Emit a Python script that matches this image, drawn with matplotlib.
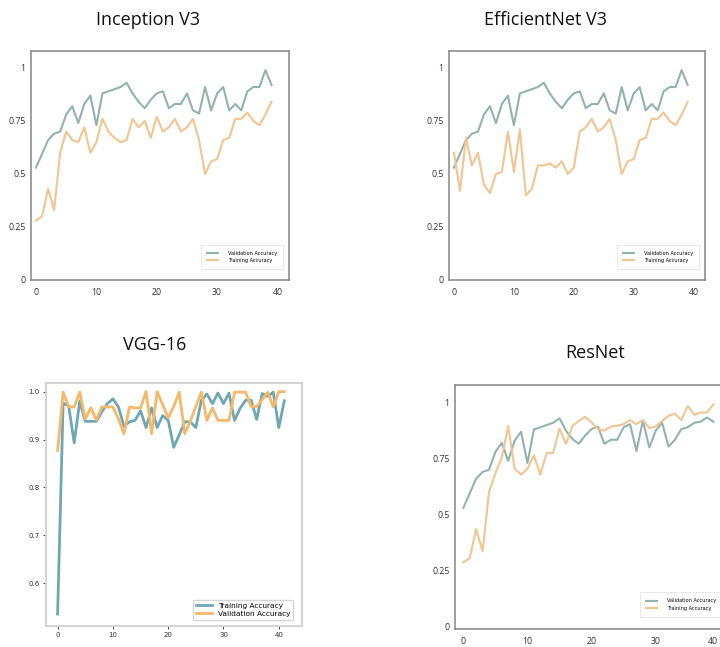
import matplotlib
matplotlib.use("Agg")
import matplotlib.pyplot as plt
import matplotlib.transforms as mtransforms

# ---------------- data ----------------
inception_val = [0.53, 0.595, 0.66, 0.69, 0.70, 0.78, 0.82, 0.74, 0.83, 0.87,
                 0.73, 0.88, 0.89, 0.90, 0.91, 0.93, 0.88, 0.84, 0.81, 0.85,
                 0.88, 0.89, 0.81, 0.83, 0.83, 0.88, 0.80, 0.785, 0.91, 0.80,
                 0.88, 0.91, 0.80, 0.83, 0.80, 0.89, 0.91, 0.91, 0.99, 0.92]
inception_train = [0.28, 0.30, 0.43, 0.33, 0.60, 0.70, 0.66, 0.65, 0.72, 0.60,
                   0.65, 0.76, 0.70, 0.67, 0.65, 0.66, 0.76, 0.72, 0.75, 0.67,
                   0.77, 0.70, 0.72, 0.76, 0.70, 0.72, 0.76, 0.66, 0.50, 0.56,
                   0.57, 0.66, 0.67, 0.76, 0.76, 0.79, 0.75, 0.73, 0.78, 0.84]

efficientnet_val = list(inception_val)
efficientnet_train = [0.60, 0.42, 0.67, 0.54, 0.60, 0.45, 0.41, 0.50, 0.51, 0.70,
                      0.51, 0.71, 0.40, 0.43, 0.54, 0.54, 0.55, 0.53, 0.56, 0.50,
                      0.53, 0.70, 0.72, 0.76, 0.70, 0.72, 0.76, 0.66, 0.50, 0.56,
                      0.57, 0.66, 0.67, 0.76, 0.76, 0.79, 0.75, 0.73, 0.78, 0.84]

vgg_train = [0.536, 0.976, 0.97, 0.893, 0.98, 0.938, 0.938, 0.938, 0.958, 0.975,
             0.985, 0.968, 0.928, 0.937, 0.94, 0.96, 0.925, 0.966, 0.925, 0.95,
             0.94, 0.884, 0.91, 0.937, 0.937, 0.925, 0.982, 0.995, 0.975, 0.997,
             0.975, 0.997, 0.94, 0.965, 0.982, 0.982, 0.942, 0.996, 0.99, 0.999,
             0.925, 0.981]
vgg_val = [0.877, 0.999, 0.968, 0.968, 0.999, 0.943, 0.966, 0.941, 0.968, 0.968,
           0.968, 0.943, 0.912, 0.968, 0.966, 0.966, 1.0, 0.912, 1.0, 0.973,
           0.945, 0.969, 0.999, 0.912, 0.938, 0.969, 0.999, 0.94, 0.966, 0.94,
           0.94, 0.94, 0.999, 0.999, 0.999, 0.969, 0.969, 0.983, 0.999, 0.968,
           1.0, 1.0]

resnet_val = [0.53, 0.595, 0.66, 0.69, 0.70, 0.78, 0.82, 0.74, 0.83, 0.87,
              0.73, 0.88, 0.89, 0.90, 0.91, 0.93, 0.875, 0.838, 0.816, 0.853,
              0.882, 0.893, 0.816, 0.834, 0.834, 0.89, 0.904, 0.784, 0.92, 0.80,
              0.875, 0.91, 0.804, 0.834, 0.882, 0.89, 0.91, 0.915, 0.934, 0.915]
resnet_train = [0.286, 0.305, 0.435, 0.335, 0.60, 0.685, 0.755, 0.895, 0.705, 0.678,
                0.705, 0.765, 0.678, 0.775, 0.775, 0.885, 0.815, 0.895, 0.918, 0.937,
                0.912, 0.882, 0.875, 0.893, 0.897, 0.904, 0.922, 0.904, 0.922, 0.887,
                0.893, 0.919, 0.941, 0.951, 0.922, 0.985, 0.946, 0.956, 0.956, 0.993]

titles = ["Inception V3", "EfficientNet V3", "VGG-16", "ResNet"]
soft_yticks = [0, 0.25, 0.5, 0.75, 1]
soft_yticklabels = ["0", "0.25", "0.5", "0.75", "1"]
xticks = [0, 10, 20, 30, 40]
vgg_yticks = [0.6, 0.7, 0.8, 0.9, 1.0]

# ---------------- figure ----------------
W, H = 720, 647
fig = plt.figure(figsize=(W / 100, H / 100), dpi=100)
fig.patch.set_facecolor("white")

SOFT_TEAL = "#93b2ae"
SOFT_ORANGE = "#f1c491"
VGG_TEAL = "#6ea7b4"
VGG_ORANGE = "#f5b868"
TITLE_FONT = ["Open Sans", "DejaVu Sans"]


def add_px_axes(l, t, r, b):
    return fig.add_axes([l / W, 1 - b / H, (r - l) / W, (b - t) / H])


def soft_panel(box, val, train, ylim, legend_anchor):
    ax = add_px_axes(*box)
    ax.plot(list(range(len(val))), val, color=SOFT_TEAL, lw=1.5,
            label="Validation Accuracy")
    ax.plot(list(range(len(train))), train, color=SOFT_ORANGE, lw=1.5,
            label="Training Accuracy")
    ax.set_xlim(-0.83, 41.9)
    ax.set_ylim(*ylim)
    ax.set_yticks(soft_yticks)
    ax.set_yticklabels(soft_yticklabels)
    ax.set_xticks(xticks)
    for s in ax.spines.values():
        s.set_color("#858585")
        s.set_linewidth(1.1)
    ax.tick_params(length=0, labelsize=6.3, colors="#333333", pad=4)
    ax.tick_params(axis="x", pad=6)
    for lbl in ax.get_xticklabels() + ax.get_yticklabels():
        lbl.set_fontfamily(TITLE_FONT)
    leg = ax.legend(loc="lower right", bbox_to_anchor=legend_anchor,
                    fontsize=3.6, frameon=True, fancybox=False,
                    borderaxespad=0, handlelength=2.2, borderpad=1.2,
                    labelspacing=0.5, handletextpad=2.0)
    leg.get_frame().set_edgecolor("#dddddd")
    leg.get_frame().set_linewidth(0.6)
    return ax


# Inception V3
soft_panel((31, 51, 289, 280), inception_val, inception_train,
           (0, 1.08), (0.977, 0.048))
fig.text(148 / W, 1 - 20 / H, titles[0], ha="center", va="center",
         fontsize=13, family=TITLE_FONT, color="#111111")

# EfficientNet V3
soft_panel((449, 51, 705, 280), efficientnet_val, efficientnet_train,
           (0, 1.08), (0.977, 0.048))
fig.text(546 / W, 1 - 20 / H, titles[1], ha="center", va="center",
         fontsize=13, family=TITLE_FONT, color="#111111")

# ResNet
axr = soft_panel((455, 385, 732, 629), resnet_val, resnet_train,
                 (-0.012, 1.079), (0.964, 0.05))
axr.set_xlim(-1.3, 41.9)
fig.canvas.draw()
last = axr.get_xticklabels()[-1]
last.set_horizontalalignment("right")
last.set_transform(last.get_transform() +
                   mtransforms.ScaledTranslation(-2 / 100, 0, fig.dpi_scale_trans))
fig.text(595 / W, 1 - 353 / H, titles[3], ha="center", va="center",
         fontsize=13, family=TITLE_FONT, color="#111111")

# VGG-16
axv = add_px_axes(46, 383, 302, 626)
axv.plot(list(range(len(vgg_train))), vgg_train, color=VGG_TEAL, lw=2.0,
         label="Training Accuracy")
axv.plot(list(range(len(vgg_val))), vgg_val, color=VGG_ORANGE, lw=2.0,
         label="Validation Accuracy")
axv.set_xlim(-2.1, 44.2)
axv.set_ylim(0.511, 1.018)
axv.set_xticks(xticks)
axv.set_yticks(vgg_yticks)
axv.set_yticklabels([f"{v:.1f}" for v in vgg_yticks])
for s in axv.spines.values():
    s.set_color("#cccccc")
    s.set_linewidth(1.2)
axv.tick_params(length=2.5, width=0.6, colors="#333333", labelsize=5, pad=2)
legv = axv.legend(loc="lower right", bbox_to_anchor=(0.965, 0.025),
                  fontsize=5.3, frameon=True, fancybox=True,
                  borderaxespad=0, handlelength=2.2, labelspacing=0.25)
legv.get_frame().set_edgecolor("#cccccc")
fig.text(155 / W, 1 - 345 / H, titles[2], ha="center", va="center",
         fontsize=13, family=TITLE_FONT, color="#111111")

fig.savefig("out.png", dpi=100, facecolor="white")
